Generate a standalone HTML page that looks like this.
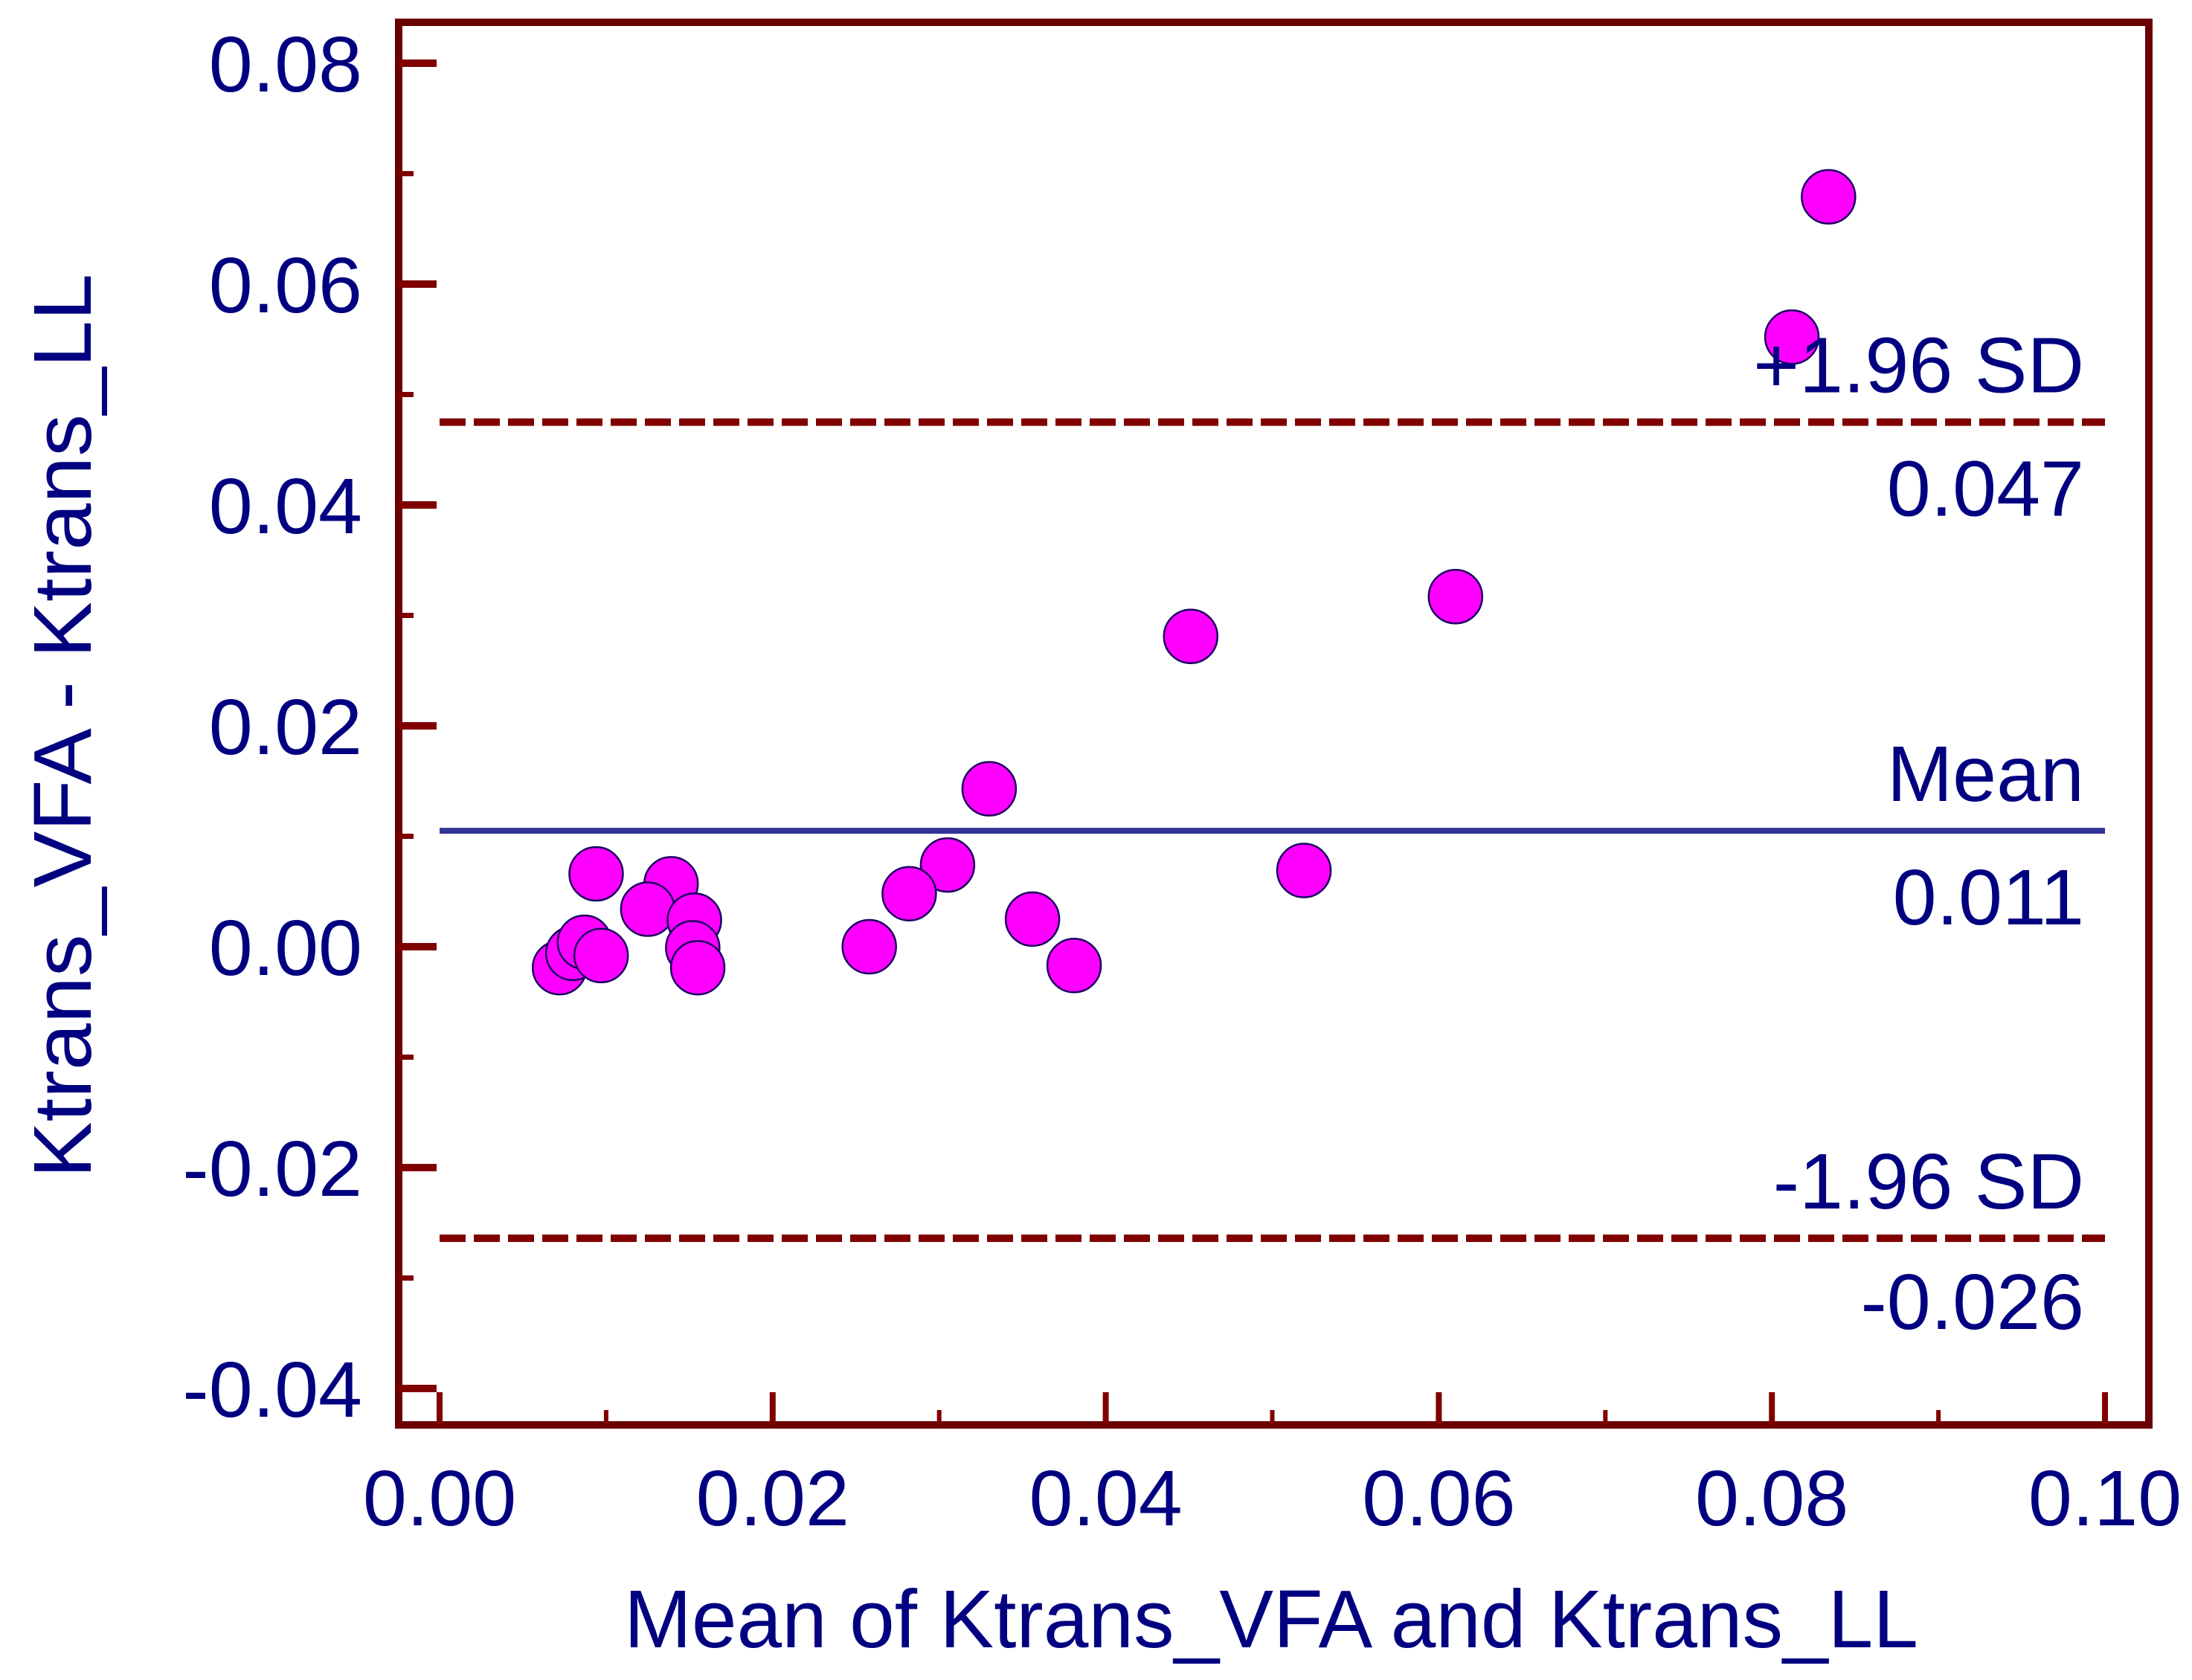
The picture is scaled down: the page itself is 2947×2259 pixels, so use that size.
<!DOCTYPE html>
<html><head><meta charset="utf-8"><style>
html,body{margin:0;padding:0;background:#fff;}
svg{display:block;}
text{font-family:"Liberation Sans",Arial,sans-serif;fill:#000080;}
</style></head><body>
<svg id="chart" width="2947" height="2259" viewBox="0 0 2947 2259" xmlns="http://www.w3.org/2000/svg">
<g id="frame"></g>
<g id="ticks"></g>
<g id="lines"></g>
<g id="points"></g>
<g id="labels"></g>
</svg>
<script>
const xMeans = [0.0834,0.0812,0.0610,0.0451,0.0330,0.0519,0.0305,0.0282,0.0258,0.0356,0.0381,0.0094,0.0139,0.0125,0.0153,0.0152,0.0155,0.0072,0.0080,0.0087,0.0097];
const yDiffs = [0.0679,0.0552,0.0317,0.0281,0.0143,0.0069,0.0074,0.0048,0.0000,0.0025,-0.0017,0.0066,0.0057,0.0034,0.0024,-0.0001,-0.0019,-0.0019,-0.0006,0.0004,-0.0008];
const xTickVals = [0,0.02,0.04,0.06,0.08,0.10];
const xTickLabels = ["0.00","0.02","0.04","0.06","0.08","0.10"];
const yTickVals = [-0.04,-0.02,0,0.02,0.04,0.06,0.08];
const yTickLabels = ["-0.04","-0.02","0.00","0.02","0.04","0.06","0.08"];
const meanDiff = 0.0105;
const upperLoA = 0.0475;
const lowerLoA = -0.0264;
const refLabels = ["+1.96 SD","0.047","Mean","0.011","-1.96 SD","-0.026"];

const NS="http://www.w3.org/2000/svg";
const X = v => 591 + v*(2830-591)/0.10;
const Y = v => 1273 - v*14850;
const L=536, T=30, R=2889, B=1916;
function mk(tag, attrs, parent){const e=document.createElementNS(NS,tag);for(const k in attrs)e.setAttribute(k,attrs[k]);parent.appendChild(e);return e;}
const frame=document.getElementById('frame'), ticks=document.getElementById('ticks'), lines=document.getElementById('lines'), pts=document.getElementById('points'), labs=document.getElementById('labels');

let fr=mk('rect',{x:L,y:T,width:R-L,height:B-T,fill:'none',stroke:'#6b0000','stroke-width':10},frame);



for(let i=-4;i<=8;i++){
  const v=i/100, major=(i%2===0);
  let t=mk('line',{x1:L,x2:L+(major?51:20),y1:Y(v),y2:Y(v),stroke:'#800000','stroke-width':major?10:7},ticks);
  
  
}
yTickVals.forEach((v,i)=>{
  let t=mk('text',{x:487,y:Y(v)+38,'font-size':106,'text-anchor':'end'},labs);
  t.textContent=yTickLabels[i];
  
  
});
for(let i=0;i<=10;i++){
  const v=i/100, major=(i%2===0);
  let t=mk('line',{x1:X(v),x2:X(v),y1:B,y2:B-(major?44:20),stroke:'#800000','stroke-width':major?8:6},ticks);
  
  
}
xTickVals.forEach((v,i)=>{
  let t=mk('text',{x:X(v),y:2051,'font-size':106,'text-anchor':'middle'},labs);
  t.textContent=xTickLabels[i];
  
  
});
let up=mk('line',{x1:X(0),x2:X(0.1),y1:Y(upperLoA),y2:Y(upperLoA),stroke:'#800000','stroke-width':10,'stroke-dasharray':'35 11'},lines);


let lo=mk('line',{x1:X(0),x2:X(0.1),y1:Y(lowerLoA),y2:Y(lowerLoA),stroke:'#800000','stroke-width':10,'stroke-dasharray':'35 11'},lines);


let mn=mk('line',{x1:X(0),x2:X(0.1),y1:Y(meanDiff),y2:Y(meanDiff),stroke:'#333399','stroke-width':8},lines);


xMeans.forEach((v,i)=>{
  let c=mk('circle',{cx:X(v),cy:Y(yDiffs[i]),r:36,fill:'#ff00ff',stroke:'#1a0060','stroke-width':2.5},pts);
  
  
});
const refY=[Y(upperLoA)-40,Y(upperLoA)+126,Y(meanDiff)-40,Y(meanDiff)+126,Y(lowerLoA)-40,Y(lowerLoA)+122];
refLabels.forEach((s,i)=>{
  let t=mk('text',{x:2802,y:refY[i],'font-size':106,'text-anchor':'end'},labs);
  t.textContent=s;
  
  
});
let xt=mk('text',{x:839,y:2215,'font-size':110,textLength:1740,lengthAdjust:'spacingAndGlyphs'},labs);
xt.textContent='Mean of Ktrans_VFA and Ktrans_LL';


let yt=mk('text',{x:0,y:0,'font-size':110,'text-anchor':'middle',textLength:1216,lengthAdjust:'spacingAndGlyphs',transform:'translate(122,976) rotate(-90)'},labs);
yt.textContent='Ktrans_VFA - Ktrans_LL';


</script>
</body></html>
